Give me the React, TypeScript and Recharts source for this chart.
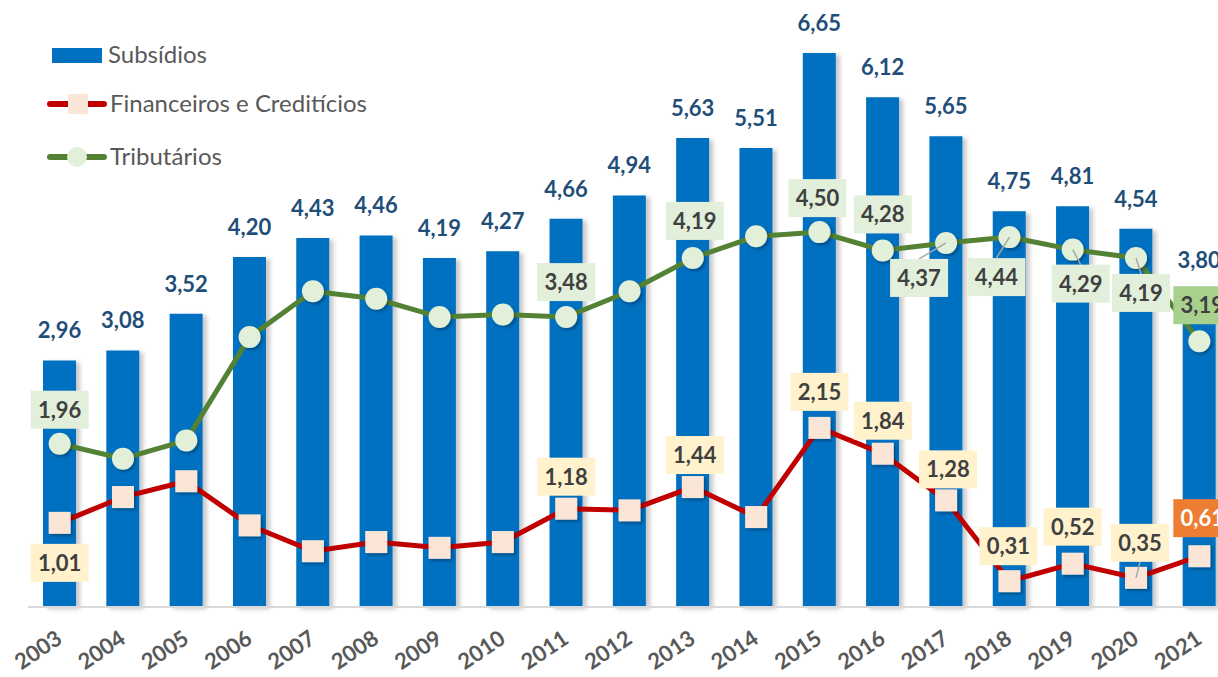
import { Bar, ComposedChart, LabelList, Line, XAxis, YAxis } from 'recharts';

const YEARS = [
  '2003', '2004', '2005', '2006', '2007', '2008', '2009', '2010', '2011', '2012',
  '2013', '2014', '2015', '2016', '2017', '2018', '2019', '2020', '2021',
];
const SUBSIDIOS = [2.96, 3.08, 3.52, 4.2, 4.43, 4.46, 4.19, 4.27, 4.66, 4.94, 5.63, 5.51, 6.65, 6.12, 5.65, 4.75, 4.81, 4.54, 3.8];
const FINANCEIROS = [1.01, 1.32, 1.51, 0.98, 0.67, 0.78, 0.71, 0.78, 1.18, 1.16, 1.44, 1.08, 2.15, 1.84, 1.28, 0.31, 0.52, 0.35, 0.61];
const TRIBUTARIOS = [1.96, 1.78, 2.0, 3.24, 3.79, 3.7, 3.48, 3.51, 3.48, 3.79, 4.19, 4.45, 4.5, 4.28, 4.37, 4.44, 4.29, 4.19, 3.19];

const data = YEARS.map((year, i) => ({
  year,
  subsidios: SUBSIDIOS[i],
  financeiros: FINANCEIROS[i],
  tributarios: TRIBUTARIOS[i],
}));

const FONT = 'Lato, "Open Sans", sans-serif';
const BLUE = '#0070C0';
const RED = '#C00000';
const GREEN = '#548235';

const fmt = (v: number) => v.toFixed(2).replace('.', ',');

type BoxCfg = { dx: number; dy: number; leader?: boolean; last?: boolean };

// label placement (offset of the box centre from the point)
const TRIB_BOXES: Record<number, BoxCfg> = {
  0: { dx: 0, dy: -34 },
  8: { dx: 0, dy: -35 },
  10: { dx: 2, dy: -37 },
  12: { dx: -2, dy: -34 },
  13: { dx: 0, dy: -36 },
  14: { dx: -27, dy: 35, leader: true },
  15: { dx: -13, dy: 40, leader: true },
  16: { dx: 8, dy: 34, leader: true },
  17: { dx: 5, dy: 35, leader: true },
  18: { dx: 3, dy: -36, last: true },
};
const FIN_BOXES: Record<number, BoxCfg> = {
  0: { dx: 0, dy: 40 },
  8: { dx: 0, dy: -32 },
  10: { dx: 2, dy: -32 },
  12: { dx: 0, dy: -36 },
  13: { dx: 0, dy: -33 },
  14: { dx: 2, dy: -31 },
  15: { dx: -1, dy: -35 },
  16: { dx: 0, dy: -37 },
  17: { dx: 4, dy: -35, leader: true },
  18: { dx: 3, dy: -38, last: true },
};

const makeBoxLabel = (boxes: Record<number, BoxCfg>, bg: string, lastBg: string, lastColor: string) =>
  (props: any) => {
    const { x, y, value, index } = props;
    const cfg = boxes[index];
    if (!cfg) return null;
    const cx = x + cfg.dx;
    const cy = y + cfg.dy;
    const w = 58;
    const h = 38;
    return (
      <g key={`bl-${index}`}>
        {cfg.leader && (
          <line x1={x} y1={y} x2={cx} y2={cfg.dy > 0 ? cy - h / 2 : cy + h / 2} stroke="#A6A6A6" strokeWidth={1.5} />
        )}
        <rect x={cx - w / 2} y={cy - h / 2} width={w} height={h} fill={cfg.last ? lastBg : bg} />
        <text
          x={cx}
          y={cy + 8}
          textAnchor="middle"
          fontFamily={FONT}
          fontWeight={700}
          fontSize={22}
          fill={cfg.last ? lastColor : '#404040'}
        >
          {fmt(Number(value))}
        </text>
      </g>
    );
  };

const renderTribLabel = makeBoxLabel(TRIB_BOXES, '#E2EFDA', '#A9D18E', '#404040');
const renderFinLabel = makeBoxLabel(FIN_BOXES, '#FFF2CC', '#ED7D31', '#FFFFFF');

const renderBarLabel = (props: any) => {
  const { x, y, width, value, index } = props;
  return (
    <text
      key={`bar-${index}`}
      x={x + width / 2}
      y={y - 22}
      textAnchor="middle"
      fontFamily={FONT}
      fontWeight={700}
      fontSize={22}
      fill="#1F4E79"
    >
      {fmt(Number(value))}
    </text>
  );
};

const SquareDot = (props: any) => {
  const { cx, cy, index } = props;
  return <rect key={`sq-${index}`} x={cx - 11} y={cy - 11} width={22} height={22} fill="#FBE5D6" filter="url(#shadow)" />;
};

const CircleDot = (props: any) => {
  const { cx, cy, index } = props;
  return <circle key={`ci-${index}`} cx={cx} cy={cy} r={11} fill="#E2F0D9" filter="url(#shadow)" />;
};

const YearTick = (props: any) => {
  const { x, y, payload } = props;
  return (
    <text
      transform={`translate(${x + 4},${y + 27}) rotate(-34)`}
      textAnchor="end"
      fontFamily={FONT}
      fontWeight={700}
      fontSize={22}
      fill="#595959"
    >
      {payload.value}
    </text>
  );
};

const Legend = () => (
  <svg width={420} height={190} style={{ position: 'absolute', left: 0, top: 0 }}>
    <rect x={52} y={48} width={50} height={15} fill={BLUE} />
    <text x={108} y={63} fontFamily={FONT} fontSize={24} fill="#595959">Subsídios</text>
    <line x1={50} y1={104} x2={104} y2={104} stroke={RED} strokeWidth={6} strokeLinecap="round" />
    <rect x={68} y={94} width={20} height={20} fill="#FBE5D6" />
    <text x={110} y={112} fontFamily={FONT} fontSize={24} fill="#595959">Financeiros e Creditícios</text>
    <line x1={50} y1={157} x2={104} y2={157} stroke={GREEN} strokeWidth={6} strokeLinecap="round" />
    <circle cx={77} cy={157} r={10} fill="#E2F0D9" />
    <text x={110} y={165} fontFamily={FONT} fontSize={24} fill="#595959">Tributários</text>
  </svg>
);

export default function App() {
  return (
    <div style={{ position: 'fixed', left: 0, top: 0, width: 1218, height: 677, overflow: 'hidden', background: '#fff' }}>
      <ComposedChart width={1240} height={677} data={data} margin={{ top: 53, right: 9, bottom: 0, left: 28 }} barCategoryGap="0%">
        <defs>
          <filter id="shadow" x="-30%" y="-30%" width="170%" height="170%">
            <feDropShadow dx={2} dy={2} stdDeviation={1.5} floodColor="#000" floodOpacity={0.3} />
          </filter>
          <filter id="barShadow" x="-20%" y="-5%" width="150%" height="110%">
            <feDropShadow dx={4} dy={2} stdDeviation={2} floodColor="#000" floodOpacity={0.22} />
          </filter>
        </defs>
        <XAxis
          dataKey="year"
          height={70}
          interval={0}
          tickLine={false}
          axisLine={{ stroke: '#D9D9D9', strokeWidth: 2 }}
          tick={<YearTick />}
        />
        <YAxis hide domain={[0, 6.65]} />
        <Bar dataKey="subsidios" fill={BLUE} barSize={33} isAnimationActive={false} filter="url(#barShadow)">
          <LabelList dataKey="subsidios" content={renderBarLabel} />
        </Bar>
        <Line
          type="linear"
          dataKey="financeiros"
          stroke={RED}
          strokeWidth={5}
          dot={SquareDot}
          activeDot={false}
          isAnimationActive={false}
        >
          <LabelList dataKey="financeiros" content={renderFinLabel} />
        </Line>
        <Line
          type="linear"
          dataKey="tributarios"
          stroke={GREEN}
          strokeWidth={5}
          dot={CircleDot}
          activeDot={false}
          isAnimationActive={false}
        >
          <LabelList dataKey="tributarios" content={renderTribLabel} />
        </Line>
      </ComposedChart>
      <Legend />
    </div>
  );
}
